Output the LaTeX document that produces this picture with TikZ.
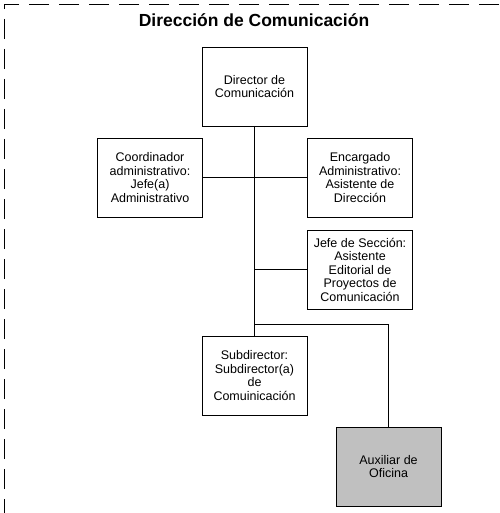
\documentclass[tikz,border=0pt]{standalone}
\usepackage{fontspec}
\setmainfont{Liberation Sans}
\usetikzlibrary{calc}
\definecolor{auxgray}{RGB}{192,192,192}

\begin{document}
\begin{tikzpicture}[x=1pt, y=-1pt, outer sep=0pt, inner sep=2pt,
    puesto/.style={draw, line width=0.8pt, fill=white, minimum width=105pt, minimum height=79pt,
        align=center, font=\fontsize{12.5}{13.5}\selectfont},
    enlace/.style={line width=1.4pt},
    enlace_fino/.style={line width=0.9pt}]

\useasboundingbox (0, 0) rectangle (499, 513);
\draw [dashed, dash pattern=on 20pt off 10pt, line width=0.8pt] (499, 4) -- (4, 4) -- (4, 513);

\node [anchor=base, font=\fontsize{17.5}{20}\selectfont\bfseries] at (254, 26.5) (TITULO) {Dirección de Comunicación};

\node [puesto] at (254.5, 86.5) (DIRECTOR) {Director de\\Comunicación};
\node [puesto] at (150, 177.5) (COORD_ADMIN) {Coordinador\\administrativo:\\Jefe(a)\\Administrativo};
\node [puesto] at (360, 177.5) (ENC_ADMIN) {Encargado\\Administrativo:\\Asistente de\\Dirección};
\node [puesto] at (360, 269.5) (JEFE_SEC) {Jefe de Sección:\\Asistente\\Editorial de\\Proyectos de\\Comunicación};
\node [puesto] at (254.5, 375.5) (SUBDIR) {Subdirector:\\Subdirector(a)\\de\\Comuinicación};
\node [puesto, fill=auxgray] at (388.5, 466.5) (AUX_OFI) {Auxiliar de\\Oficina};

\coordinate (MID) at (254.5, 324);
    \draw [enlace] (DIRECTOR) -- (MID);
    \draw [enlace] (COORD_ADMIN) -- (ENC_ADMIN);
    \draw [enlace] (MID |- JEFE_SEC) -- (JEFE_SEC);
    \draw [enlace_fino] (MID) -- (SUBDIR);
    \draw [enlace_fino] (MID) -| (AUX_OFI);
    %\draw [enlace_fino] (SUBDIR.east) -- (AUX_OFI.north);
\end{tikzpicture}
\end{document}
